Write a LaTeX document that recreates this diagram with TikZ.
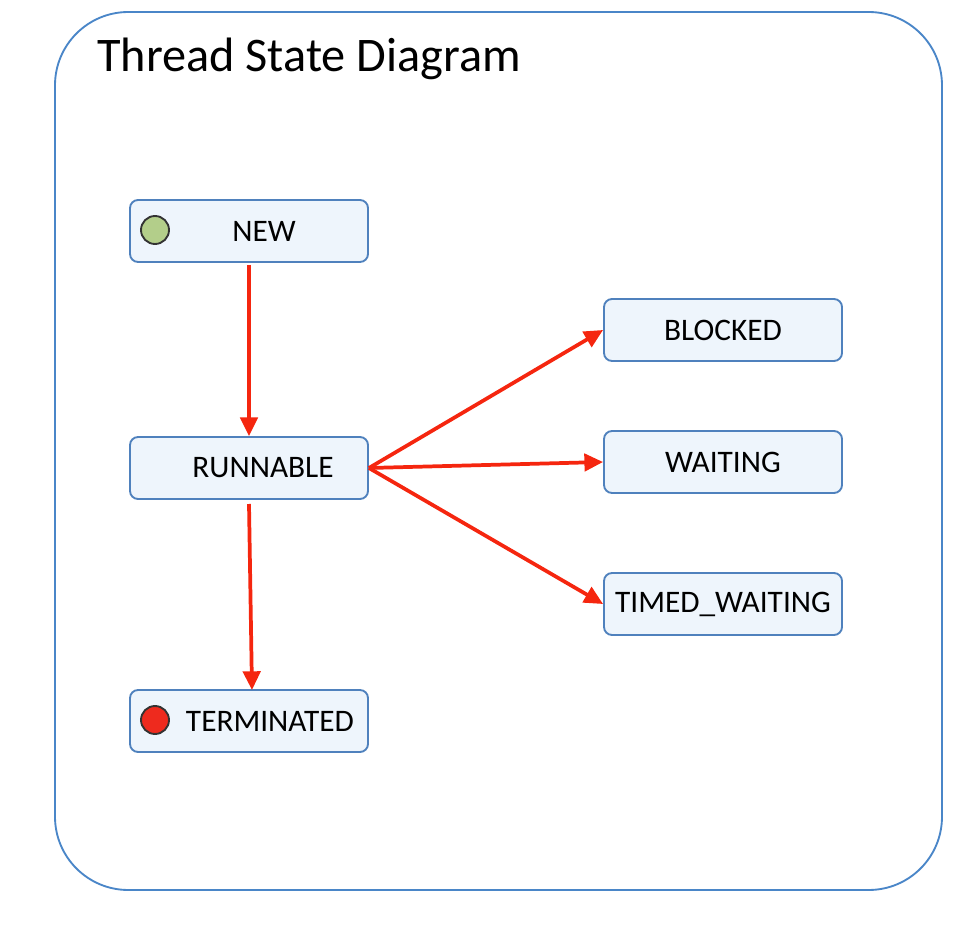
\documentclass[tikz,border=0pt]{standalone}
\usepackage{fontspec}
\setmainfont{Carlito}
\usetikzlibrary{arrows.meta}
\definecolor{boxfill}{HTML}{EEF5FC}
\definecolor{boxline}{HTML}{4F81BD}
\definecolor{outerline}{HTML}{4A86C8}
\definecolor{arrred}{HTML}{F5260F}
\definecolor{newgreen}{HTML}{B3CE8A}
\definecolor{termred}{HTML}{EE2A1E}
\tikzset{
  statebox/.style={draw=boxline, fill=boxfill, line width=1.4pt, rounded corners=6pt,
    minimum width=178.5pt, minimum height=46.5pt, inner sep=0pt, font=\fontsize{23.5}{27}\selectfont},
  lbl/.style={font=\fontsize{23.5}{27}\selectfont, inner sep=0pt},
  trans/.style={draw=arrred, line width=2.8pt, -{Triangle[length=14pt,width=13pt]}},
  dot/.style={circle, draw=black!80, line width=1.4pt, minimum size=21pt, inner sep=0pt}
}
\begin{document}
\begin{tikzpicture}[x=0.75pt,y=-0.75pt]
\useasboundingbox (0,0) rectangle (976,938);
\draw[outerline, line width=1.4pt, rounded corners=55pt] (55,12) rectangle (942,890);
\node[anchor=base west, font=\fontsize{36.2}{40}\selectfont, inner sep=0pt] (title) at (97,72) {Thread State Diagram};

\node[statebox] (new) at (249,231) {};
\node[lbl] (newt) at (264,231) {NEW};
\node[dot, fill=newgreen] (newdot) at (155,230) {};

\node[statebox] (run) at (249,468) {};
\node[lbl] (runt) at (263,468) {RUNNABLE};

\node[statebox] (term) at (249,721) {};
\node[lbl] (termt) at (270,721) {TERMINATED};
\node[dot, fill=termred] (termdot) at (155,720) {};

\node[statebox] (blk) at (723,330) {BLOCKED};
\node[statebox] (wait) at (723,462) {WAITING};
\node[statebox] (tw) at (723,604) {TIMED\_WAITING};

\draw[trans] (new.south) ++(0,2) coordinate (a1) -- (new.south |- run.north);
\coordinate (r1) at (249,504);
\coordinate (t1) at (252,690);
\draw[trans] (r1) -- (t1);
\draw[trans] (run.east) -- (blk.west);
\draw[trans] (run.east) -- (wait.west);
\draw[trans] (run.east) -- (tw.west);
\end{tikzpicture}
\end{document}
